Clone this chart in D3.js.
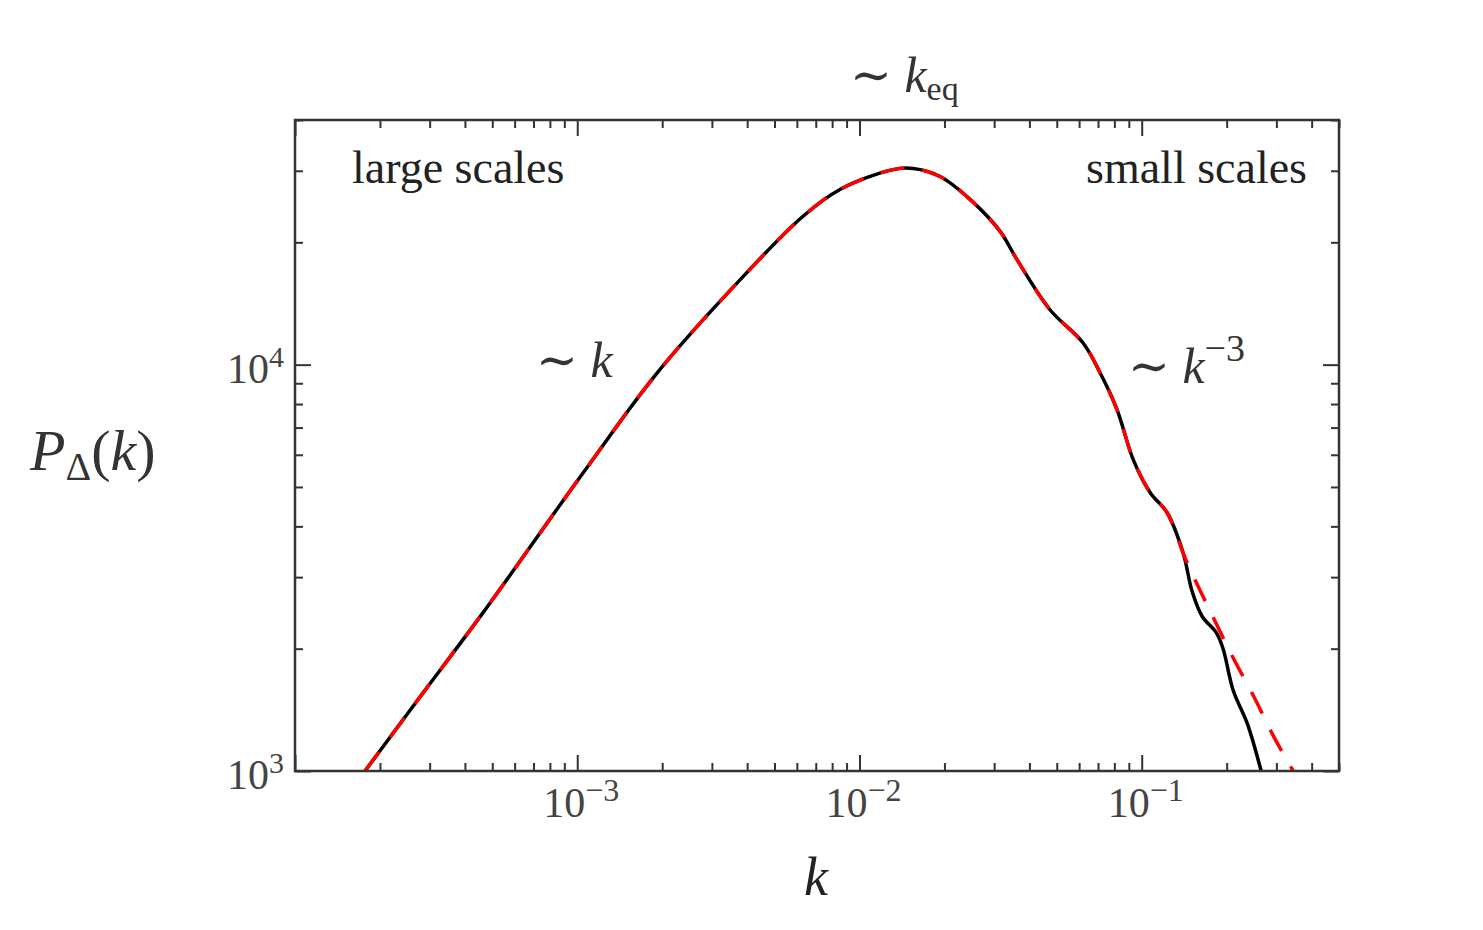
<!DOCTYPE html>
<html>
<head>
<meta charset="utf-8">
<script src="https://cdn.jsdelivr.net/npm/d3@7"></script>
<style>
  body { margin: 0; background: #fff; }
  text { font-family: "Liberation Serif", "DejaVu Serif", serif; }
</style>
</head>
<body>
<div id="chart"></div>
<script>
// 黑色實線: 完整 P(k)
const kBlack = [1.77e-4, 2.86e-4, 4.63e-4, 1.05e-3, 1.92e-3, 3.78e-3, 6.31e-3, 8.53e-3, 1.315e-2, 1.55e-2,
  1.93e-2, 2.47e-2, 3.15e-2, 3.61e-2, 4.73e-2, 6.19e-2, 7.12e-2, 8.18e-2, 9.33e-2, 0.1072,
  0.1231, 0.1402, 0.151, 0.1638, 0.1837, 0.1942, 0.2108, 0.2365, 0.265];
const pBlack = [1000, 1566, 2450, 5420, 9550, 16190, 23180, 26980, 30200, 30390,
  29040, 25470, 21280, 18160, 13650, 11320, 9550, 7740, 5840, 4840,
  4320, 3440, 2760, 2400, 2190, 2000, 1580, 1310, 1000];

// 紅色虛線: 與黑線重合, 小尺度處分開
const kRed = [1.77e-4, 2.86e-4, 4.63e-4, 1.05e-3, 1.92e-3, 3.78e-3, 6.31e-3, 8.53e-3, 1.315e-2, 1.55e-2,
  1.93e-2, 2.47e-2, 3.15e-2, 3.61e-2, 4.73e-2, 6.19e-2, 7.12e-2, 8.18e-2, 9.33e-2, 0.1072,
  0.1231, 0.1402, 0.148, 0.179, 0.211, 0.250, 0.294, 0.344];
const pRed = [1000, 1566, 2450, 5420, 9550, 16190, 23180, 26980, 30200, 30390,
  29040, 25470, 21280, 18160, 13650, 11320, 9550, 7740, 5840, 4840,
  4320, 3440, 3150, 2390, 1897, 1521, 1213, 1000];

// 刻度
const xMajor = [1e-4, 1e-3, 1e-2, 1e-1];
const xLabelTicks = [1e-3, 1e-2, 1e-1];
const xLabelExp = ["\u22123", "\u22122", "\u22121"];
const yMajor = [1e3, 1e4];
const yLabelExp = ["3", "4"];

const W = 1483, H = 930;
const margin = {top: 120, right: 144, bottom: 159, left: 295};
const width = W - margin.left - margin.right;
const height = H - margin.top - margin.bottom;

const svg = d3.select("#chart").append("svg")
  .attr("width", W)
  .attr("height", H);

const g = svg.append("g")
  .attr("transform", `translate(${margin.left},${margin.top})`);

// 比例尺
const x = d3.scaleLog().domain([1e-4, 0.5]).range([0, width]);
const y = d3.scaleLog().domain([1e3, 4e4]).range([height, 0]);

// 次刻度
const xMinor = [];
for (let e = -4; e <= -1; e++) {
  for (let m = 2; m <= 9; m++) {
    const v = m * Math.pow(10, e);
    if (v <= 0.5) xMinor.push(v);
  }
}
const yMinor = [];
for (let e = 3; e <= 4; e++) {
  for (let m = 2; m <= 9; m++) {
    const v = m * Math.pow(10, e);
    if (v <= 4e4) yMinor.push(v);
  }
}

const axisColor = "#333";
function styleAxis(sel) {
  sel.select(".domain").remove();
  sel.selectAll(".tick line").attr("stroke", axisColor).attr("stroke-width", 2);
  sel.selectAll(".tick text").remove();
}

// 四邊刻度 (朝內)
[[xMinor, 8], [xMajor, 16]].forEach(([vals, len]) => {
  g.append("g").attr("transform", `translate(0,${height})`)
    .call(d3.axisBottom(x).tickValues(vals).tickSizeInner(-len).tickSizeOuter(0).tickFormat(""))
    .call(styleAxis);
  g.append("g")
    .call(d3.axisTop(x).tickValues(vals).tickSizeInner(-len).tickSizeOuter(0).tickFormat(""))
    .call(styleAxis);
});
[[yMinor, 8], [yMajor, 16]].forEach(([vals, len]) => {
  g.append("g")
    .call(d3.axisLeft(y).tickValues(vals).tickSizeInner(-len).tickSizeOuter(0).tickFormat(""))
    .call(styleAxis);
  g.append("g").attr("transform", `translate(${width},0)`)
    .call(d3.axisRight(y).tickValues(vals).tickSizeInner(-len).tickSizeOuter(0).tickFormat(""))
    .call(styleAxis);
});

// 裁切
g.append("clipPath").attr("id", "clip")
  .append("rect").attr("width", width).attr("height", height);

const line = d3.line()
  .x(d => x(d[0]))
  .y(d => y(d[1]))
  .curve(d3.curveCatmullRom.alpha(0.5));

g.append("path")
  .datum(kBlack.map((k, i) => [k, pBlack[i]]))
  .attr("clip-path", "url(#clip)")
  .attr("fill", "none")
  .attr("stroke", "#000")
  .attr("stroke-width", 3.5)
  .attr("d", line);

g.append("path")
  .datum(kRed.map((k, i) => [k, pRed[i]]))
  .attr("clip-path", "url(#clip)")
  .attr("fill", "none")
  .attr("stroke", "#ff0000")
  .attr("stroke-width", 3.5)
  .attr("stroke-dasharray", "24,18")
  .attr("d", line);

// 外框
g.append("rect")
  .attr("width", width)
  .attr("height", height)
  .attr("fill", "none")
  .attr("stroke", axisColor)
  .attr("stroke-width", 2.5);

// x 軸刻度標籤
const tickColor = "#444";
xLabelTicks.forEach((v, i) => {
  const t = g.append("text")
    .attr("x", x(v) + 4)
    .attr("y", height + 46)
    .attr("text-anchor", "middle")
    .attr("fill", tickColor)
    .style("font-size", "42px");
  t.append("tspan").text("10");
  t.append("tspan").attr("dy", -16).style("font-size", "32px").text(xLabelExp[i]);
});

// y 軸刻度標籤
yMajor.forEach((v, i) => {
  const t = g.append("text")
    .attr("x", -11)
    .attr("y", y(v) + 18)
    .attr("text-anchor", "end")
    .attr("fill", tickColor)
    .style("font-size", "42px");
  t.append("tspan").text("10");
  t.append("tspan").attr("dy", -16).style("font-size", "30px").text(yLabelExp[i]);
});

// x 軸標題
svg.append("text")
  .attr("x", 816)
  .attr("y", 895)
  .attr("text-anchor", "middle")
  .attr("fill", "#222")
  .style("font-size", "54px")
  .style("font-style", "italic")
  .text("k");

// y 軸標題
const yl = svg.append("text")
  .attr("x", 30)
  .attr("y", 470)
  .attr("fill", "#333")
  .style("font-size", "58px");
yl.append("tspan").style("font-style", "italic").text("P");
yl.append("tspan").attr("dy", 10).style("font-size", "40px").text("\u0394");
yl.append("tspan").attr("dy", -10).text("(");
yl.append("tspan").style("font-style", "italic").text("k");
yl.append("tspan").text(")");

// 註解
function annot(xp, yp, parts) {
  const t = svg.append("text")
    .attr("x", xp).attr("y", yp)
    .attr("fill", "#333")
    .style("font-size", "50px");
  parts.forEach(p => {
    const s = t.append("tspan").text(p.text);
    if (p.italic) s.style("font-style", "italic");
    if (p.size) s.style("font-size", p.size + "px");
    if (p.dy) s.attr("dy", p.dy);
  });
  return t;
}

annot(850, 92, [{text: "\u223C "}, {text: "k", italic: true}, {text: "eq", size: 34, dy: 8}]);
annot(536, 377, [{text: "\u223C "}, {text: "k", italic: true}]);
annot(1128, 383, [{text: "\u223C "}, {text: "k", italic: true}, {text: "\u22123", size: 38, dy: -22}]);

svg.append("text")
  .attr("x", 352).attr("y", 183)
  .attr("fill", "#222")
  .style("font-size", "46px")
  .text("large scales");

svg.append("text")
  .attr("x", 1307).attr("y", 183)
  .attr("text-anchor", "end")
  .attr("fill", "#222")
  .style("font-size", "46px")
  .text("small scales");
</script>
</body>
</html>
